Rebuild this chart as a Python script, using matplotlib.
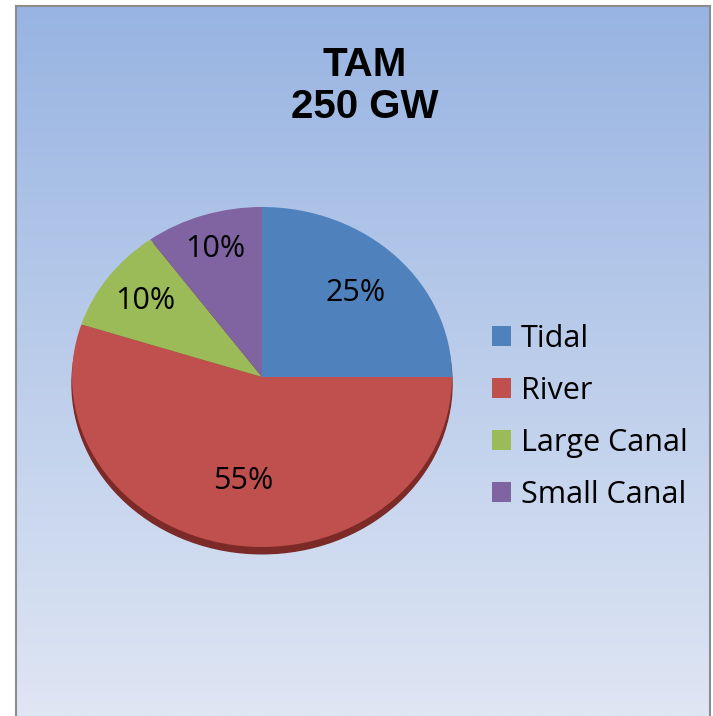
import numpy as np
import matplotlib.pyplot as plt
from matplotlib.patches import Ellipse

# data
labels = ['Tidal', 'River', 'Large Canal', 'Small Canal']
shares = [25, 55, 10, 10]
colors = ['#4F81BD', '#C0504D', '#9BBB59', '#8064A2']
title = 'TAM\n250 GW'

# how far out each % label sits (fraction of radius)
label_dist = [0.70, 0.62, 0.76, 0.79]

W, H = 713, 716
fig = plt.figure(figsize=(W / 100, H / 100), dpi=100)
fig.patch.set_facecolor('white')

# chart area with vertical gradient
bg = fig.add_axes([16 / W, 0, (710 - 16) / W, (716 - 6) / H])
top = np.array([152, 180, 226]) / 255
bot = np.array([223, 230, 244]) / 255
t = np.linspace(0, 1, 256)[:, None]
grad = (top * (1 - t) + bot * t)[:, None, :]
bg.imshow(grad, aspect='auto', extent=[0, 1, 0, 1])
bg.set_xticks([])
bg.set_yticks([])
for s in bg.spines.values():
    s.set_color('#8c8c8c')
    s.set_linewidth(1.5)
bg.spines['bottom'].set_visible(False)

fig.text(365 / W, 1 - 86 / H, title, ha='center', va='center',
         fontsize=29, fontweight='bold', family='Liberation Sans',
         linespacing=1.1)

# pie axes (slightly flattened ellipse)
cx, cy, rx, ry = 262, 377, 190, 170
ax = fig.add_axes([(cx - rx) / W, (H - cy - ry) / H, 2 * rx / W, 2 * ry / H])
shadow = Ellipse((0.0, -0.04), 2, 2, color='#7b2a27', zorder=0, clip_on=False)
ax.add_patch(shadow)
wedges, texts, autotexts = ax.pie(
    shares, colors=colors, startangle=90, counterclock=False,
    autopct='%d%%', pctdistance=0.7, radius=1,
    wedgeprops=dict(linewidth=0, clip_on=False),
    textprops=dict(fontsize=22, family='Open Sans', color='black'))
for w, txt, d in zip(wedges, autotexts, label_dist):
    mid = np.deg2rad((w.theta1 + w.theta2) / 2)
    txt.set_position((d * np.cos(mid), d * np.sin(mid)))
ax.set_aspect('auto')
ax.set_xlim(-1, 1)
ax.set_ylim(-1, 1)
ax.axis('off')

fig.legend(wedges, labels, loc='center left',
           bbox_to_anchor=(492 / W, 1 - 417 / H),
           frameon=False, borderpad=0, borderaxespad=0,
           handlelength=0.62, handleheight=0.62, handletextpad=0.33,
           labelspacing=0.72, prop=dict(family='Open Sans', size=22))

fig.savefig('out.png', dpi=100)
